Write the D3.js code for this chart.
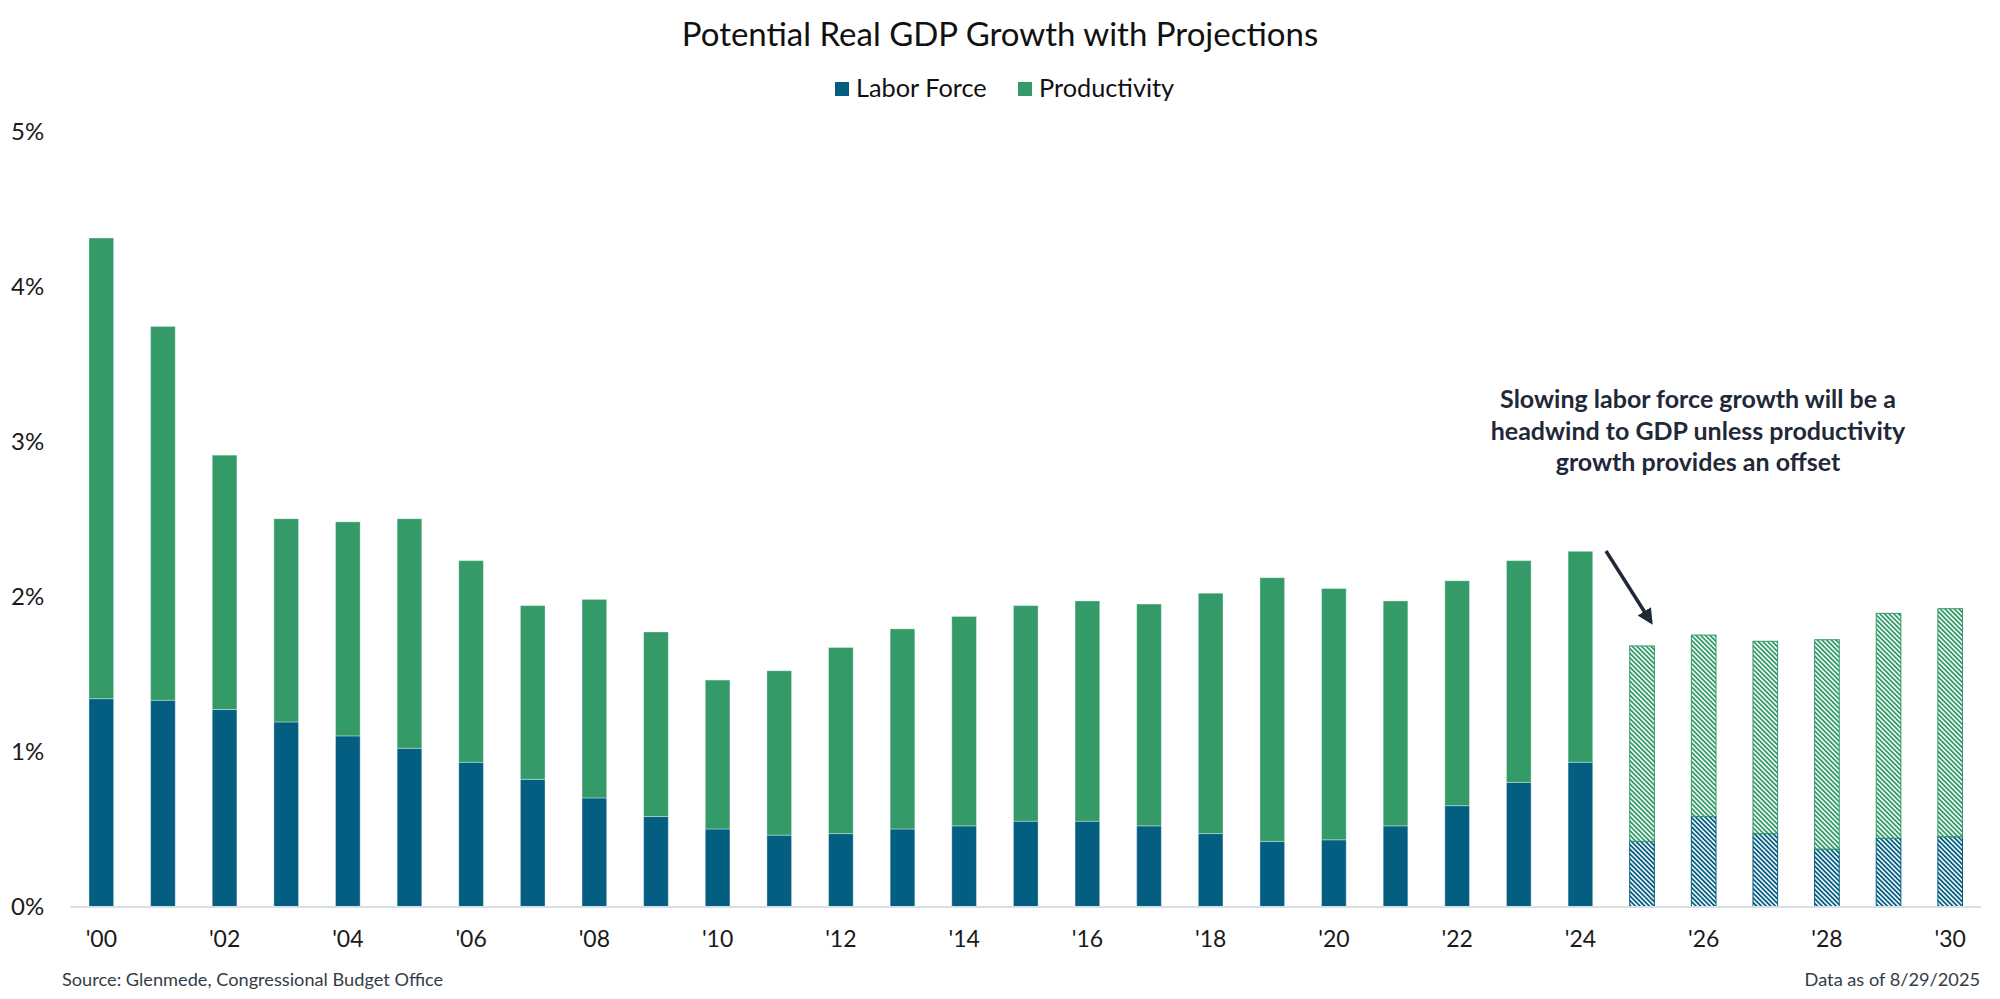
<!DOCTYPE html>
<html>
<head>
<meta charset="utf-8">
<script src="https://cdn.jsdelivr.net/npm/d3@7"></script>
<style>
  html, body { margin: 0; padding: 0; background: #ffffff; }
  svg { display: block; font-family: Lato, "Open Sans", sans-serif; }
</style>
</head>
<body>
<svg id="chart" width="2000" height="999"></svg>
<script>
// ---------------- DATA ----------------
const years = ["'00","'01","'02","'03","'04","'05","'06","'07","'08","'09",
               "'10","'11","'12","'13","'14","'15","'16","'17","'18","'19",
               "'20","'21","'22","'23","'24","'25","'26","'27","'28","'29","'30"];
const laborForce = [1.34,1.33,1.27,1.19,1.10,1.02,0.93,0.82,0.70,0.58,
                    0.50,0.46,0.47,0.50,0.52,0.55,0.55,0.52,0.47,0.42,
                    0.43,0.52,0.65,0.80,0.93,0.42,0.58,0.47,0.37,0.44,0.45];
const productivity = [2.97,2.41,1.64,1.31,1.38,1.48,1.30,1.12,1.28,1.19,
                      0.96,1.06,1.20,1.29,1.35,1.39,1.42,1.43,1.55,1.70,
                      1.62,1.45,1.45,1.43,1.36,1.26,1.17,1.24,1.35,1.45,1.47];
const projected = [false,false,false,false,false,false,false,false,false,false,
                   false,false,false,false,false,false,false,false,false,false,
                   false,false,false,false,false,true,true,true,true,true,true];
const xTickLabels = ["'00","'02","'04","'06","'08","'10","'12","'14","'16","'18",
                     "'20","'22","'24","'26","'28","'30"];
const yTicks = [0,1,2,3,4,5];
const seriesNames = ["Labor Force","Productivity"];
const seriesColors = ["#045e82","#339a68"];
const titleText = "Potential Real GDP Growth with Projections";
const annotationLines = ["Slowing labor force growth will be a",
                         "headwind to GDP unless productivity",
                         "growth provides an offset"];
const sourceText = "Source: Glenmede, Congressional Budget Office";
const dateText = "Data as of 8/29/2025";

// ---------------- SETUP ----------------
const svg = d3.select("#chart");

const x = d3.scaleBand().domain(years).range([70.5, 1981]).paddingInner(0.6).paddingOuter(0.3);
const y = d3.scaleLinear().domain([0, 5]).range([906.5, 131]);

// patterns
const defs = svg.append("defs");
seriesColors.forEach((c, i) => {
  const p = defs.append("pattern")
    .attr("id", "hatch" + i)
    .attr("patternUnits", "userSpaceOnUse")
    .attr("width", 3.3).attr("height", 3.3)
    .attr("patternTransform", "rotate(-45)");
  p.append("rect").attr("width", 3.3).attr("height", 3.3).attr("fill", "#ffffff");
  p.append("rect").attr("x", 0).attr("y", 0).attr("width", 1.8).attr("height", 3.3).attr("fill", c);
});

// stacked data
const rows = years.map((yr, i) => ({ year: yr, labor: laborForce[i], prod: productivity[i], proj: projected[i] }));
const stack = d3.stack().keys(["labor", "prod"])(rows);

// ---------------- BARS ----------------
const barsG = svg.append("g");
stack.forEach((layer, li) => {
  barsG.append("g").selectAll("rect")
    .data(layer)
    .join("rect")
    .attr("x", d => x(d.data.year))
    .attr("width", x.bandwidth())
    .attr("y", d => y(d[1]))
    .attr("height", d => y(d[0]) - y(d[1]))
    .attr("fill", d => d.data.proj ? `url(#hatch${li})` : seriesColors[li])
    .attr("stroke", d => d.data.proj ? seriesColors[li] : "rgba(255,255,255,0.35)")
    .attr("stroke-width", 1);
});

// ---------------- AXES ----------------
svg.append("line")
  .attr("x1", 70.5).attr("x2", 1981)
  .attr("y1", y(0) + 0.5).attr("y2", y(0) + 0.5)
  .attr("stroke", "#d7dee4").attr("stroke-width", 2);

const xAxis = d3.axisBottom(x).tickValues(xTickLabels).tickSize(0).tickPadding(0);
const gx = svg.append("g").attr("transform", `translate(0, ${y(0)})`).call(xAxis);
gx.select(".domain").remove();
gx.selectAll("text")
  .attr("y", 40).attr("dy", 0)
  .attr("font-family", "Lato, sans-serif")
  .attr("font-size", 23).attr("fill", "#1a1a1a");

const yAxis = d3.axisLeft(y).tickValues(yTicks).tickFormat(d => d + "%").tickSize(0);
const gy = svg.append("g").call(yAxis);
gy.select(".domain").remove();
gy.selectAll("text")
  .attr("x", 11).attr("dy", "0.35em")
  .attr("text-anchor", "start")
  .attr("font-family", "Lato, sans-serif")
  .attr("font-size", 24).attr("fill", "#1a1a1a");

// ---------------- TITLE & LEGEND ----------------
svg.append("text")
  .attr("x", 1000).attr("y", 46)
  .attr("text-anchor", "middle")
  .attr("font-size", 33).attr("fill", "#111111")
  .text(titleText);

const legend = svg.append("g");
const legendItems = [{ name: seriesNames[0], color: seriesColors[0], sx: 835 },
                     { name: seriesNames[1], color: seriesColors[1], sx: 1018 }];
legendItems.forEach(it => {
  legend.append("rect").attr("x", it.sx).attr("y", 82).attr("width", 14).attr("height", 14).attr("fill", it.color);
  legend.append("text").attr("x", it.sx + 21).attr("y", 97)
    .attr("font-size", 25.3).attr("fill", "#111111").text(it.name);
});

// ---------------- ANNOTATION ----------------
const ann = svg.append("text")
  .attr("text-anchor", "middle")
  .attr("font-size", 25).attr("font-weight", 700).attr("fill", "#1f2937");
annotationLines.forEach((t, i) => {
  ann.append("tspan").attr("x", 1698).attr("y", 408 + i * 31.5).text(t);
});

defs.append("marker")
  .attr("id", "arrowhead")
  .attr("viewBox", "0 0 10 10")
  .attr("refX", 8).attr("refY", 5)
  .attr("markerWidth", 4.5).attr("markerHeight", 4.5)
  .attr("orient", "auto")
  .append("path").attr("d", "M0,0 L10,5 L0,10 Z").attr("fill", "#1f2937");

svg.append("line")
  .attr("x1", 1606).attr("y1", 551)
  .attr("x2", 1651).attr("y2", 622)
  .attr("stroke", "#1f2937").attr("stroke-width", 3.5)
  .attr("marker-end", "url(#arrowhead)");

// ---------------- FOOTER ----------------
svg.append("text")
  .attr("x", 62).attr("y", 986)
  .attr("font-size", 18.2).attr("fill", "#333d48")
  .text(sourceText);
svg.append("text")
  .attr("x", 1980).attr("y", 986)
  .attr("text-anchor", "end")
  .attr("font-size", 18.2).attr("fill", "#333d48")
  .text(dateText);
</script>
</body>
</html>
